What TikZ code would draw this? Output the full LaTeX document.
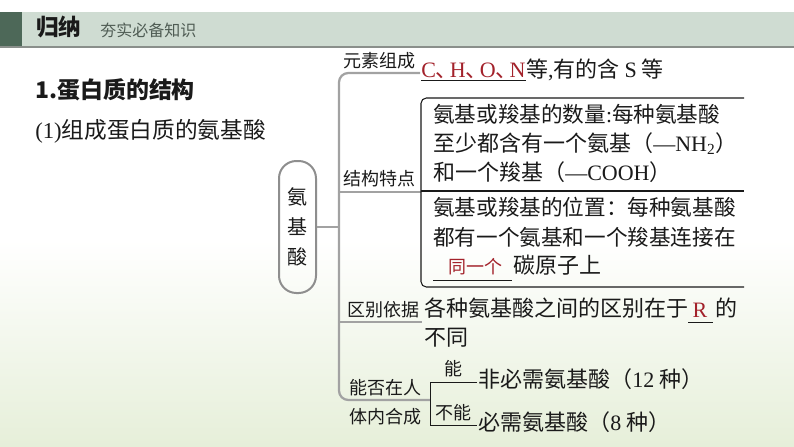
\documentclass[tikz,border=0pt]{standalone}
\usepackage{fontspec}
\setmainfont{Noto Sans CJK SC}
\newfontfamily\lat{Liberation Serif}
\definecolor{ink}{HTML}{1A1A1A}
\definecolor{ansred}{HTML}{A3222B}
\definecolor{band}{HTML}{CFDCD2}
\definecolor{bandDark}{HTML}{4D6858}
\definecolor{bandLine}{HTML}{8A8F8B}
\definecolor{subgray}{HTML}{4F5C54}
\definecolor{treegray}{HTML}{A2A2A2}
\definecolor{boxgray}{HTML}{8E8E8E}
\definecolor{bgGreen}{HTML}{E6EFD9}
\begin{document}
\begin{tikzpicture}[x=0.75pt,y=-0.75pt,
  txt/.style={anchor=west, inner sep=0pt, text=ink, text height=0.88em, text depth=0.12em},
  lbl/.style={txt, font=\fontsize{13.5pt}{16pt}\selectfont},
  body/.style={txt, font=\fontsize{16.5pt}{20pt}\selectfont},
  tree/.style={draw=treegray, line width=1.7pt, rounded corners=7pt},
  brk/.style={draw=ink, line width=0.8pt, rounded corners=4pt},
  uline/.style={draw=ink, line width=0.75pt}]
\useasboundingbox (0,0) rectangle (794,447);
% background
\fill[white] (0,0) rectangle (794,447);
\shade[top color=white, bottom color=bgGreen] (0,240) rectangle (794,447);
% header band
\fill[band] (0,12) rectangle (794,46);
\fill[bandDark] (0,12) rectangle (22,46);
\draw[bandLine, line width=1pt] (0,47) -- (794,47);
\node (hd) [txt, font=\fontsize{17pt}{20pt}\selectfont\bfseries] at (36,30) {归纳};
\node (hdsub) [txt, text=subgray, font=\fontsize{12pt}{14pt}\selectfont] at (100,31) {夯实必备知识};
% titles
\node (t1) [txt, font=\fontsize{17.2pt}{20pt}\selectfont\bfseries] at (35,93) {1.蛋白质的结构};
\node (t2) [txt, font=\fontsize{17pt}{20pt}\selectfont] at (35,133) {{\lat (1)}组成蛋白质的氨基酸};
% amino box
\node (amino) [draw=boxgray, line width=1.5pt, rounded corners=13pt, minimum width=27.75pt, minimum height=99pt, inner sep=0pt, align=center, text=ink, font=\fontsize{15pt}{22.5pt}\selectfont] at (297.5,227) {氨\\基\\酸};
% tree
\coordinate (vtop) at (339,73);
\coordinate (vbot) at (339,400);
\coordinate (stem) at (339,227);
\coordinate (b1) at (420,73);
\coordinate (b2a) at (339,192);
\coordinate (b2) at (421,192);
\coordinate (b3a) at (339,322);
\coordinate (b3) at (422,322);
\coordinate (b4) at (430,400);
\draw[tree] (b1) -- (vtop) -- (vbot) -- (b4);
\draw[tree] (b2a) -- (b2);
\draw[tree] (b3a) -- (b3);
\draw[tree] (amino.east) -- (stem);
% labels on tree
\node (l1) [lbl] at (343,62) {元素组成};
\node (l2) [lbl] at (343,180) {结构特点};
\node (l3) [lbl] at (347,311) {区别依据};
\node (l4a) [lbl] at (349,389) {能否在人};
\node (l4b) [lbl] at (349,418) {体内合成};
% branch 1 content
\node (c1) [body, text=ansred] at (421,72) {{\lat C}、\kern-6pt{\lat H}、\kern-6pt{\lat O}、\kern-6pt{\lat N}};
\node (c1b) [body] at (c1.east) {等{\lat ,}有的含 {\lat S} 等};
\draw[uline] (c1.south west) ++(0,2) coordinate (u1a) -- (c1.south east |- u1a);
% bracket 1
\coordinate (k1) at (744,98);
\coordinate (k2) at (421,98);
\coordinate (k3) at (421,287);
\coordinate (k4) at (744,287);
\coordinate (k5) at (421,191);
\coordinate (k6) at (744,191);
\draw[brk] (k1) -- (k2) -- (k3) -- (k4);
\draw[brk] (k5) -- (k6);
\node (s1) [body, font=\fontsize{16.2pt}{20pt}\selectfont] at (433,117) {氨基或羧基的数量{\lat :}每种氨基酸};
\node (s2) [body] at (433,146) {至少都含有一个氨基（{\lat —NH\textsubscript{2}}）};
\node (s3) [body] at (433,175) {和一个羧基（{\lat —COOH}）};
\node (s4) [body, font=\fontsize{16.2pt}{20pt}\selectfont] at (433,210) {氨基或羧基的位置：每种氨基酸};
\node (s5) [body, font=\fontsize{16.2pt}{20pt}\selectfont] at (433,240) {都有一个氨基和一个羧基连接在};
\node (s6r) [body, text=ansred, font=\fontsize{13.5pt}{20pt}\selectfont] at (448,268) {同一个};
\node (s6) [body] at (513,268) {碳原子上};
\coordinate (u2a) at (433,280);
\coordinate (u2b) at (512,280);
\draw[uline] (u2a) -- (u2b);
% branch 3 content
\node (d1) [body] at (424,311) {各种氨基酸之间的区别在于};
\node (dR) [body, text=ansred, font=\fontsize{16.5pt}{20pt}\selectfont\lat, anchor=center] at (700,312) {R};
\node (d1b) [body] at (715,311) {的};
\coordinate (u3a) at (688,322);
\coordinate (u3b) at (713,322);
\draw[uline] (u3a) -- (u3b);
\node (d2) [body] at (424,340) {不同};
% branch 4 bracket
\coordinate (m1) at (477,382);
\coordinate (m2) at (430,382);
\coordinate (m3) at (430,425);
\coordinate (m4) at (477,425);
\draw[uline] (m1) -- (m2) -- (m3) -- (m4);
\node (yes) [lbl, anchor=center] at (453,370) {能};
\node (no) [lbl, anchor=center] at (453,414) {不能};
\node (e1) [body] at (478,382) {非必需氨基酸（{\lat 12} 种）};
\node (e2) [body] at (478,425) {必需氨基酸（{\lat 8} 种）};
\end{tikzpicture}
\end{document}
